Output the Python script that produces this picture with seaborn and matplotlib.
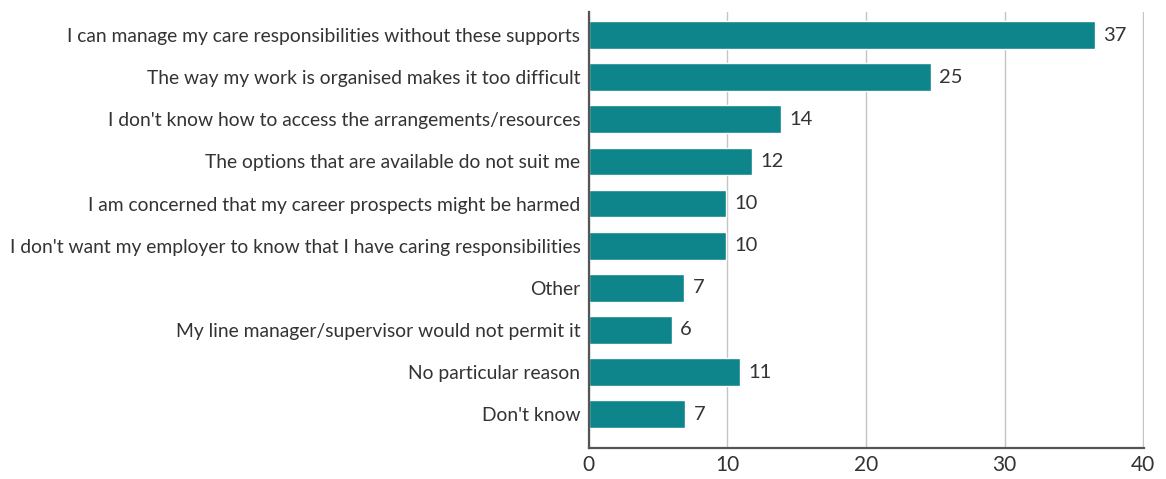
import matplotlib
matplotlib.use("Agg")
import matplotlib.pyplot as plt
import pandas as pd
import seaborn as sns

reasons = [
    "I can manage my care responsibilities without these supports",
    "The way my work is organised makes it too difficult",
    "I don't know how to access the arrangements/resources",
    "The options that are available do not suit me",
    "I am concerned that my career prospects might be harmed",
    "I don't want my employer to know that I have caring responsibilities",
    "Other",
    "My line manager/supervisor would not permit it",
    "No particular reason",
    "Don't know",
]
values = [36.5, 24.7, 13.9, 11.8, 9.9, 9.9, 6.9, 6.0, 10.9, 6.95]
value_labels = ["37", "25", "14", "12", "10", "10", "7", "6", "11", "7"]
x_ticks = [0, 10, 20, 30, 40]

df = pd.DataFrame({"Reason": reasons, "Value": values})

sns.set_style("white")
plt.rcParams["font.family"] = ["Lato", "DejaVu Sans"]

fig = plt.figure(figsize=(11.66, 4.79), dpi=100)
ax = fig.add_axes([0.505, 0.065, 0.476, 0.91])

sns.barplot(x="Value", y="Reason", data=df, color="#0e858b", width=0.66,
            saturation=1, ax=ax, zorder=3)

ax.bar_label(ax.containers[0], labels=value_labels, padding=6,
             fontsize=14.5, color="#333333")

ax.set_xlim(0, 40.05)
ax.set_ylim(9.8, -0.55)
ax.set_xticks(x_ticks)
ax.set_xlabel("")
ax.set_ylabel("")
ax.tick_params(axis="x", length=0, pad=5, labelsize=15, labelcolor="#333333")
ax.tick_params(axis="y", length=0, pad=6, labelsize=13.9, labelcolor="#333333")

ax.grid(axis="x", color="#c4c4c4", linewidth=1, zorder=0)
ax.grid(axis="y", visible=False)
ax.set_axisbelow(True)

for side in ["top", "right"]:
    ax.spines[side].set_visible(False)
for side in ["left", "bottom"]:
    ax.spines[side].set_color("#555555")
    ax.spines[side].set_linewidth(1.6)
    ax.spines[side].set_zorder(4)

fig.savefig("out.png", dpi=100)
